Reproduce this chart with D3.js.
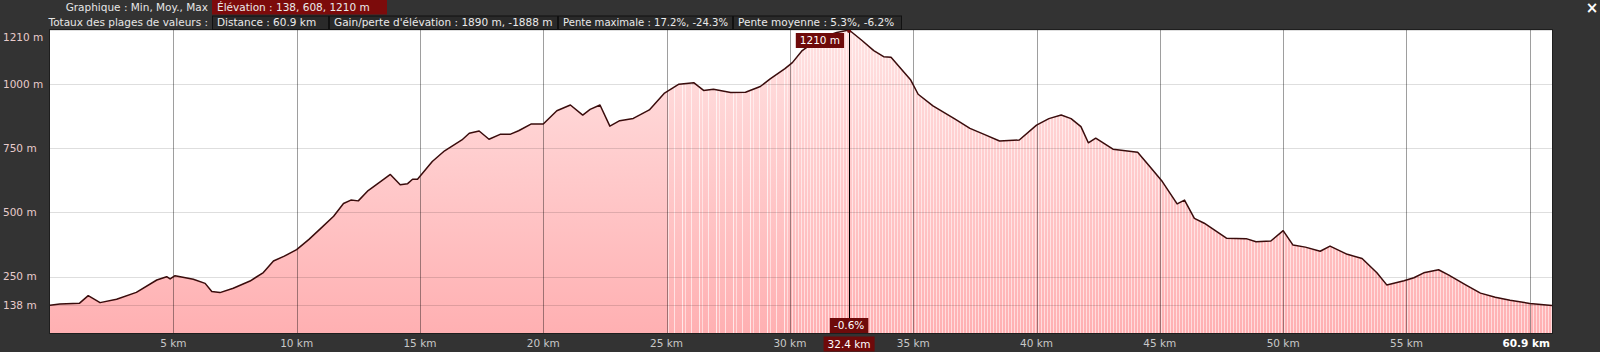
<!DOCTYPE html>
<html><head><meta charset="utf-8">
<script src="https://cdn.jsdelivr.net/npm/d3@7"></script>
<style>
html,body{margin:0;padding:0;background:#333;}
svg{display:block;}
text{font-family:"DejaVu Sans",sans-serif;}
</style></head>
<body>
<script>
// ---- data ----
const distKm = [0.0,0.4,1.2,1.55,2.03,2.7,3.5,4.33,4.73,4.87,5.07,5.81,6.29,6.56,6.89,7.43,8.11,8.65,9.06,9.5,10.0,10.5,11.0,11.5,11.9,12.2,12.5,12.9,13.4,13.8,14.2,14.5,14.7,14.9,15.5,16.0,16.7,17.0,17.4,17.8,18.25,18.65,19.0,19.5,20.0,20.55,21.1,21.6,21.9,22.3,22.7,23.1,23.65,24.3,24.9,25.5,26.1,26.5,26.9,27.6,28.2,28.8,29.2,29.8,30.1,30.5,31.2,31.9,32.4,32.9,33.4,33.8,34.1,34.9,35.2,35.8,36.7,37.3,37.9,38.5,39.3,40.0,40.5,41.0,41.4,41.8,42.1,42.4,43.1,44.1,44.6,45.1,45.7,46.0,46.4,46.8,47.7,48.5,48.9,49.5,50.0,50.4,50.9,51.5,51.9,52.6,53.2,53.8,54.2,54.9,55.3,55.7,56.3,56.7,57.4,58.0,58.6,59.2,60.0,60.9];
const elevM = [139,144,147,176,149,162,189,237,250,241,254,240,224,192,188,205,233,266,311,330,355,395,440,485,535,548,545,585,620,648,608,612,629,629,698,740,782,808,817,785,804,804,818,844,844,896,918,879,901,918,836,857,866,899,963,999,1005,975,979,967,968,990,1020,1060,1083,1130,1178,1200,1210,1171,1130,1106,1104,1015,960,915,863,827,803,778,782,840,865,879,865,834,771,789,746,734,678,620,533,548,477,458,400,398,386,389,429,373,365,349,369,337,321,265,218,234,246,265,277,257,218,186,170,158,146,138];
const yTicks = [138,250,500,750,1000,1210];
const xTicks = [5,10,15,20,25,30,35,40,45,50,55,60];
const totalKm = 60.9;
const minElev = 138, maxElev = 1210;
const cursorKm = 32.4, cursorSlope = "-0.6%", cursorElevLabel = "1210 m";
const row1Label = "Graphique : Min, Moy., Max";
const row1Items = ["Élévation : 138, 608, 1210 m"];
const row2Label = "Totaux des plages de valeurs :";
const row2Items = ["Distance : 60.9 km","Gain/perte d'élévation : 1890 m, -1888 m","Pente maximale : 17.2%, -24.3%","Pente moyenne : 5.3%, -6.2%"];

// ---- layout ----
const W = 1600, H = 352;
const L = 50, R = 1552, T = 30, B = 333;
const row1BoxW = [175];
const row2BoxW = [116, 228, 174, 168];
const svg = d3.select("body").append("svg").attr("width",W).attr("height",H);
svg.append("rect").attr("width",W).attr("height",H).attr("fill","#333");

const x = d3.scaleLinear().domain([0,totalKm]).range([L,R]);
const pad = (maxElev-minElev)*0.1;
const y = d3.scaleLinear().domain([minElev-pad, maxElev]).range([B,T]);

const defs = svg.append("defs");
const grad = defs.append("linearGradient").attr("id","fillg").attr("gradientUnits","userSpaceOnUse")
  .attr("x1",0).attr("x2",0).attr("y1",T).attr("y2",B);
grad.append("stop").attr("offset","0%").attr("stop-color","#ffe2e2");
grad.append("stop").attr("offset","100%").attr("stop-color","#ffb0b2");
const pd = defs.append("pattern").attr("id","dense").attr("patternUnits","userSpaceOnUse")
  .attr("width",3).attr("height",10);
pd.append("rect").attr("x",0).attr("width",1).attr("height",10).attr("fill","#fff").attr("opacity",0.55);
const ps = defs.append("pattern").attr("id","sparse").attr("patternUnits","userSpaceOnUse")
  .attr("width",17).attr("height",10);
ps.append("rect").attr("x",2).attr("width",1).attr("height",10).attr("fill","#fff").attr("opacity",0.7);
ps.append("rect").attr("x",5).attr("width",1).attr("height",10).attr("fill","#fff").attr("opacity",0.5);
ps.append("rect").attr("x",11).attr("width",1).attr("height",10).attr("fill","#fff").attr("opacity",0.6);
defs.append("clipPath").attr("id","cs").append("rect").attr("x",x(25)).attr("y",T).attr("width",x(30)-x(25)).attr("height",B-T);
defs.append("clipPath").attr("id","cd").append("rect").attr("x",x(30)).attr("y",T).attr("width",R-x(30)).attr("height",B-T);

// plot background
svg.append("rect").attr("x",L).attr("y",T).attr("width",R-L).attr("height",B-T).attr("fill","#fff");

const pts = distKm.map((d,i)=>[d,elevM[i]]);
const area = d3.area().x(d=>x(d[0])).y0(B).y1(d=>y(d[1]));
const line = d3.line().x(d=>x(d[0])).y(d=>y(d[1]));

svg.append("path").datum(pts).attr("d",area).attr("fill","url(#fillg)");
svg.append("path").datum(pts).attr("d",area).attr("fill","url(#sparse)").attr("clip-path","url(#cs)");
svg.append("path").datum(pts).attr("d",area).attr("fill","url(#dense)").attr("clip-path","url(#cd)");

// grid
svg.append("g").selectAll("line").data(yTicks).join("line")
  .attr("x1",L).attr("x2",R).attr("y1",d=>Math.round(y(d))+0.5).attr("y2",d=>Math.round(y(d))+0.5)
  .attr("stroke","#000").attr("stroke-opacity",0.13);
svg.append("g").selectAll("line").data(xTicks).join("line")
  .attr("x1",d=>Math.round(x(d))+0.5).attr("x2",d=>Math.round(x(d))+0.5).attr("y1",T).attr("y2",B)
  .attr("stroke","#000").attr("stroke-opacity",0.38);

// profile line
svg.append("path").datum(pts).attr("d",line).attr("fill","none").attr("stroke","#3a0c0c").attr("stroke-width",1.5).attr("stroke-linejoin","round");

// border
svg.append("rect").attr("x",L-0.5).attr("y",T-0.5).attr("width",R-L+1).attr("height",B-T+1).attr("fill","none").attr("stroke","#1e1e1e");

// y labels
svg.append("g").selectAll("text").data(yTicks).join("text")
  .attr("x",3).attr("y",d=>Math.max(y(d),37)).attr("dy","0.35em")
  .attr("font-size",10.5).attr("fill","#e8cccc").text(d=>d+" m");

// x labels
const cx = x(cursorKm);
svg.append("g").selectAll("text").data(xTicks.filter(d=>x(d) < R-40)).join("text")
  .attr("x",d=>x(d)).attr("y",343.5).attr("dy","0.35em").attr("text-anchor","middle")
  .attr("font-size",10.5).attr("fill","#c8c8c8").text(d=>d+" km");
svg.append("text").attr("x",R-2).attr("y",343.5).attr("dy","0.35em").attr("text-anchor","end")
  .attr("font-size",10.5).attr("font-weight","bold").attr("fill","#fff").text(totalKm+" km");

// cursor
svg.append("line").attr("x1",Math.round(cx)+0.5).attr("x2",Math.round(cx)+0.5).attr("y1",y(maxElev)).attr("y2",318)
  .attr("stroke","#000").attr("stroke-width",1);
function labelBox(txt, cxPos, ytop, anchor){
  const g = svg.append("g");
  const r = g.append("rect").attr("fill","#6e0a0a");
  const t = g.append("text").attr("font-size",10.5).attr("fill","#fff").text(txt);
  const w = t.node().getComputedTextLength()+8;
  let x0 = anchor==="middle" ? cxPos - w/2 : cxPos - w;
  r.attr("x",x0).attr("y",ytop).attr("width",w).attr("height",15);
  t.attr("x",x0+4).attr("y",ytop+7.5).attr("dy","0.35em");
}
labelBox(cursorSlope, cx, 318, "middle");
labelBox(cursorKm+" km", cx, 336.5, "middle");
labelBox(cursorElevLabel, cx-5, y(maxElev)+3, "end");
svg.append("circle").attr("cx",cx).attr("cy",y(maxElev)+1).attr("r",2).attr("fill","#6e0a0a");

// header
function headerRow(label, items, widths, ytop, first){
  svg.append("text").attr("x",208).attr("y",ytop+7).attr("dy","0.35em").attr("text-anchor","end")
    .attr("font-size",10.5).attr("fill","#e6e6e6").text(label);
  let xp = 212;
  items.forEach((s,i)=>{
    const g = svg.append("g");
    const r = g.append("rect");
    const w = widths[i];
    if(first){ r.attr("x",xp).attr("y",ytop).attr("width",w).attr("height",14.5).attr("fill","#7c0b0b"); }
    else { r.attr("x",xp+0.5).attr("y",ytop+0.5).attr("width",w).attr("height",13.5).attr("fill","#2a2a2a").attr("stroke","#111"); }
    const t = g.append("text").attr("font-size",10.5).attr("fill","#eaeaea").text(s)
      .attr("x",xp+5).attr("y",ytop+7).attr("dy","0.35em");
    const tl = t.node().getComputedTextLength();
    if (tl > w-9) t.attr("textLength", w-9).attr("lengthAdjust","spacingAndGlyphs");
    xp += w+1;
  });
}
headerRow(row1Label,row1Items,row1BoxW,0,true);
headerRow(row2Label,row2Items,row2BoxW,15.5,false);

// close
svg.append("text").attr("x",1592).attr("y",8).attr("dy","0.35em").attr("text-anchor","middle")
  .attr("font-size",15).attr("font-weight","bold").attr("fill","#fff").text("×");
</script>
</body></html>
